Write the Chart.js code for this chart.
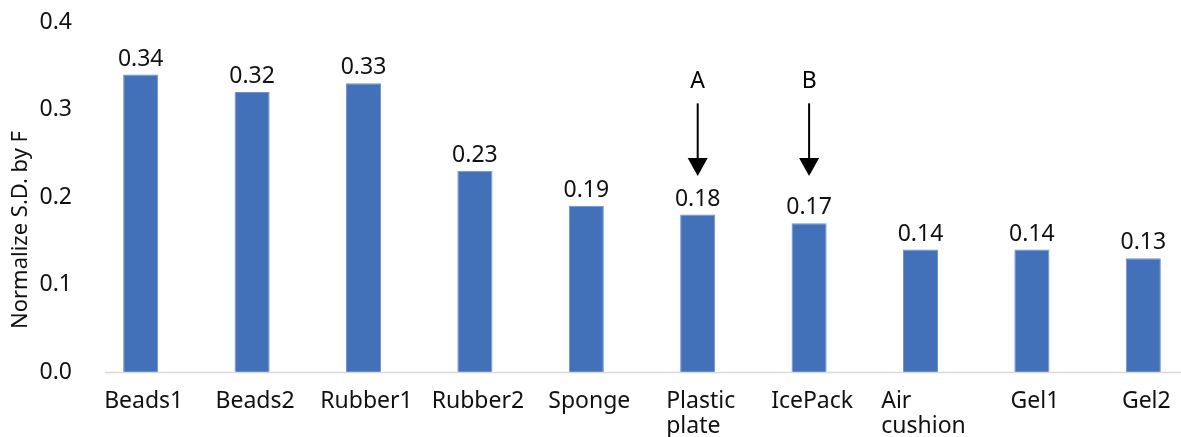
<!DOCTYPE html>
<html>
<head>
<meta charset="utf-8">
<script src="https://cdn.jsdelivr.net/npm/chart.js@4/dist/chart.umd.min.js"></script>
<style>
  html, body { margin: 0; padding: 0; background: #fff; overflow: hidden; }
  #wrap { position: relative; width: 1205px; height: 437px; }
</style>
</head>
<body>
<div id="wrap"><canvas id="chart"></canvas></div>
<script>
// Cushion materials and their normalized standard deviation
const categories = ['Beads1', 'Beads2', 'Rubber1', 'Rubber2', 'Sponge',
  ['Plastic', 'plate'], 'IcePack', ['Air', 'cushion'], 'Gel1', 'Gel2'];
const sdValues = [0.34, 0.32, 0.33, 0.23, 0.19, 0.18, 0.17, 0.14, 0.14, 0.13];
const yTicks = [0.0, 0.1, 0.2, 0.3, 0.4];
const yTitle = 'Normalize S.D. by F';

// Markers pointing down at two of the materials
const markerLetters = ['A', 'B'];
const markerTargets = [5, 6];

const FONT = '"Noto Sans", "Open Sans", sans-serif';
const SIZE = 23;
const TEXT = '#111';

const annotate = {
  id: 'annotate',
  afterDatasetsDraw(chart) {
    const { ctx, chartArea: area, scales: { x, y } } = chart;
    const meta = chart.getDatasetMeta(0);
    ctx.save();
    ctx.font = SIZE + 'px ' + FONT;
    ctx.fillStyle = TEXT;

    // value labels over the bars
    ctx.textAlign = 'center';
    ctx.textBaseline = 'alphabetic';
    meta.data.forEach((bar, i) => {
      ctx.fillText(sdValues[i].toFixed(2), bar.x, bar.y - 9);
    });

    // category axis line
    ctx.strokeStyle = '#d9d9d9';
    ctx.lineWidth = 1.5;
    ctx.beginPath();
    ctx.moveTo(area.left + 20, area.bottom + 0.5);
    ctx.lineTo(area.right, area.bottom + 0.5);
    ctx.stroke();

    // category names: wrapped lines left-aligned inside a centred block
    ctx.textAlign = 'left';
    categories.forEach((cat, i) => {
      const lines = Array.isArray(cat) ? cat : [cat];
      const w = Math.max(...lines.map(l => ctx.measureText(l).width));
      const cx = x.getPixelForValue(i);
      lines.forEach((l, k) => {
        ctx.fillText(l, cx - w / 2 + 3, area.bottom + 36 + k * 25);
      });
    });

    // axis title
    ctx.save();
    ctx.translate(21, (area.top + area.bottom) / 2 + 33);
    ctx.rotate(-Math.PI / 2);
    ctx.textAlign = 'center';
    ctx.textBaseline = 'middle';
    ctx.font = '22px ' + FONT;
    ctx.fillText(yTitle, 0, 0);
    ctx.restore();

    // arrows with letters
    ctx.strokeStyle = '#000';
    ctx.fillStyle = '#000';
    ctx.lineWidth = 2;
    markerTargets.forEach((idx, k) => {
      const cx = x.getPixelForValue(idx);
      const top = y.getPixelForValue(0.307);
      const tip = y.getPixelForValue(0.224);
      ctx.textAlign = 'center';
      ctx.fillText(markerLetters[k], cx, y.getPixelForValue(0.325));
      ctx.beginPath();
      ctx.moveTo(cx, top);
      ctx.lineTo(cx, tip - 12);
      ctx.stroke();
      ctx.beginPath();
      ctx.moveTo(cx - 10, tip - 18);
      ctx.lineTo(cx + 10, tip - 18);
      ctx.lineTo(cx, tip);
      ctx.closePath();
      ctx.fill();
    });
    ctx.restore();
  }
};

new Chart(document.getElementById('chart'), {
  type: 'bar',
  data: {
    labels: categories,
    datasets: [{
      data: sdValues,
      backgroundColor: '#4270b9',
      borderColor: '#6f91cf',
      borderWidth: 1,
      barPercentage: 0.315,
      categoryPercentage: 1
    }]
  },
  options: {
    responsive: true,
    maintainAspectRatio: false,
    animation: false,
    layout: { padding: { top: 22, right: 6, left: 0, bottom: 0 } },
    plugins: { legend: { display: false }, tooltip: { enabled: false } },
    scales: {
      x: {
        grid: { display: false },
        border: { display: false },
        ticks: { display: false },
        afterFit(s) { s.height = 65; }
      },
      y: {
        min: 0,
        max: 0.4,
        grid: { display: false },
        border: { display: false },
        afterBuildTicks(s) { s.ticks = yTicks.map(v => ({ value: v })); },
        afterFit(s) { s.width = 85; },
        ticks: {
          padding: 5,
          color: TEXT,
          font: { family: FONT, size: SIZE },
          callback: v => Number(v).toFixed(1)
        }
      }
    }
  },
  plugins: [annotate]
});
</script>
</body>
</html>
